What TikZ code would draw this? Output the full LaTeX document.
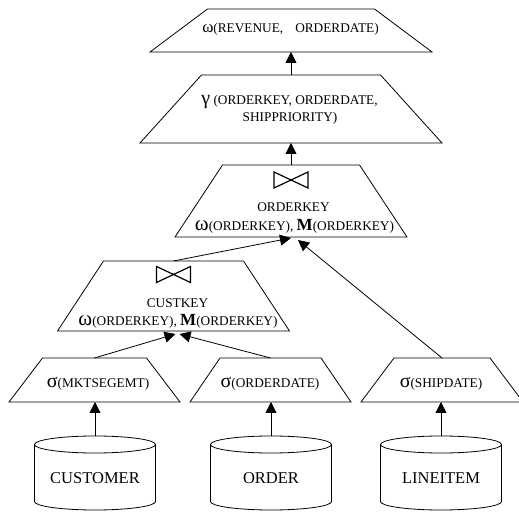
\documentclass[tikz,border=0pt]{standalone}
\usepackage{fontspec}
\setmainfont{Liberation Serif}
\usetikzlibrary{arrows.meta}
\newcommand\grk[1]{{\fontsize{20}{20}\selectfont #1}}
\newcommand\grw[1]{{\fontsize{21}{21}\selectfont #1}}
\newcommand\grtop[1]{{\fontsize{17}{17}\selectfont #1}}
\newcommand\bigM{{\fontsize{17}{17}\selectfont\bfseries M}}
% trapezoid drawn on the frame of a named box: #1 node name, #2 inset of the top corners
\newcommand\trapz[2]{\draw[tline] (#1.south west) -- ([xshift=#2]#1.north west) -- ([xshift=-#2]#1.north east) -- (#1.south east) -- cycle;}
% cylinder drawn on the frame of a named box: #1 node name
\newcommand\cylz[1]{%
  \draw[tline] ([yshift=-8.5pt]#1.north west) -- ([yshift=8.5pt]#1.south west)
    arc[start angle=180, end angle=360, x radius=60.5pt, y radius=8.5pt]
    -- ([yshift=-8.5pt]#1.north east)
    arc[start angle=0, end angle=180, x radius=60.5pt, y radius=8.5pt] -- cycle;
  \draw[tline] ([yshift=-8.5pt]#1.north west)
    arc[start angle=180, end angle=360, x radius=60.5pt, y radius=8.5pt];}
\begin{document}
\begin{tikzpicture}[x=1pt,y=1pt,
  box/.style={inner sep=0pt, outer sep=0pt},
  tline/.style={line width=0.8pt, line join=miter},
  db/.style={box, minimum width=121pt, minimum height=74pt, font=\fontsize{16.5}{20}\selectfont},
  txt/.style={inner sep=0pt, anchor=base, font=\fontsize{13.3}{17}\selectfont},
  arr/.style={-{Triangle[width=11pt,length=11pt]}, line width=0.8pt},
  bowtie/.pic={\draw[line width=1.2pt, line join=miter] (-17,8)--(17,-8)--(17,8)--(-17,-8)--cycle;}
]
\useasboundingbox (0,0) rectangle (519,511);
% operator frames
\node[box, minimum width=282pt, minimum height=43pt] (om) at (291,480.5) {};
\node[box, minimum width=302pt, minimum height=68pt] (gam) at (291,402) {};
\node[box, minimum width=232pt, minimum height=72pt] (j1) at (291,310) {};
\node[box, minimum width=232pt, minimum height=70pt] (j2) at (173.5,215) {};
\node[box, minimum width=171pt, minimum height=44pt] (s1) at (94.5,131) {};
\node[box, minimum width=161pt, minimum height=44pt] (s2) at (270.5,131) {};
\node[box, minimum width=162pt, minimum height=44pt] (s3) at (442,131) {};
\trapz{om}{57.5pt}
\trapz{gam}{61.5pt}
\trapz{j1}{47.5pt}
\trapz{j2}{46pt}
\trapz{s1}{33.5pt}
\trapz{s2}{30pt}
\trapz{s3}{33pt}
% tables
\node[db] (c1) at (95,38) {\raisebox{-10.5pt}[0pt][0pt]{CUSTOMER}};
\node[db] (c2) at (271,38) {\raisebox{-10.5pt}[0pt][0pt]{ORDER}};
\node[db] (c3) at (441,38) {\raisebox{-10.5pt}[0pt][0pt]{LINEITEM}};
\cylz{c1}
\cylz{c2}
\cylz{c3}
% texts
\node[txt] (omt) at (290.5,478.6) {\grtop{ω}(REVENUE,\hspace{12pt}ORDERDATE)};
\node[txt] (gamt1) at (289.5,406.6) {\grk{γ} (ORDERKEY, ORDERDATE,};
\node[txt] (gamt2) at (290,389.6) {SHIPPRIORITY)};
\pic at ([yshift=-15pt]j1.north) {bowtie};
\node[txt] (j1t1) at (293.5,299.6) {ORDERKEY};
\node[txt] (j1t2) at (294.5,280.6) {\grw{ω}(ORDERKEY), \bigM(ORDERKEY)};
\pic at ([yshift=-13.5pt]j2.north) {bowtie};
\node[txt] (j2t1) at (177.5,203.6) {CUSTKEY};
\node[txt] (j2t2) at (178,185.6) {\grw{ω}(ORDERKEY), \bigM(ORDERKEY)};
\node[txt] (s1t) at (98,123.6) {\grk{σ}(MKTSEGEMT)};
\node[txt] (s2t) at (270,123.6) {\grk{σ}(ORDERDATE)};
\node[txt] (s3t) at (441,123.6) {\grk{σ}(SHIPDATE)};
% connectors
\draw[arr] (gam.north) -- (om.south);
\draw[arr] (j1.north) -- (gam.south);
\draw[arr] (j2.north) -- ([yshift=-1pt]j1.south);
\draw[arr] (s3.north) -- ([xshift=7pt,yshift=-3pt]j1.south);
\draw[arr] (s1.north) -- ([xshift=2pt,yshift=-3pt]j2.south);
\draw[arr] (s2.north) -- ([xshift=6pt,yshift=-3pt]j2.south);
\draw[arr] (c1.north) -- (c1.north |- s1.south);
\draw[arr] (c2.north) -- (c2.north |- s2.south);
\draw[arr] (c3.north) -- (c3.north |- s3.south);
\end{tikzpicture}
\end{document}
